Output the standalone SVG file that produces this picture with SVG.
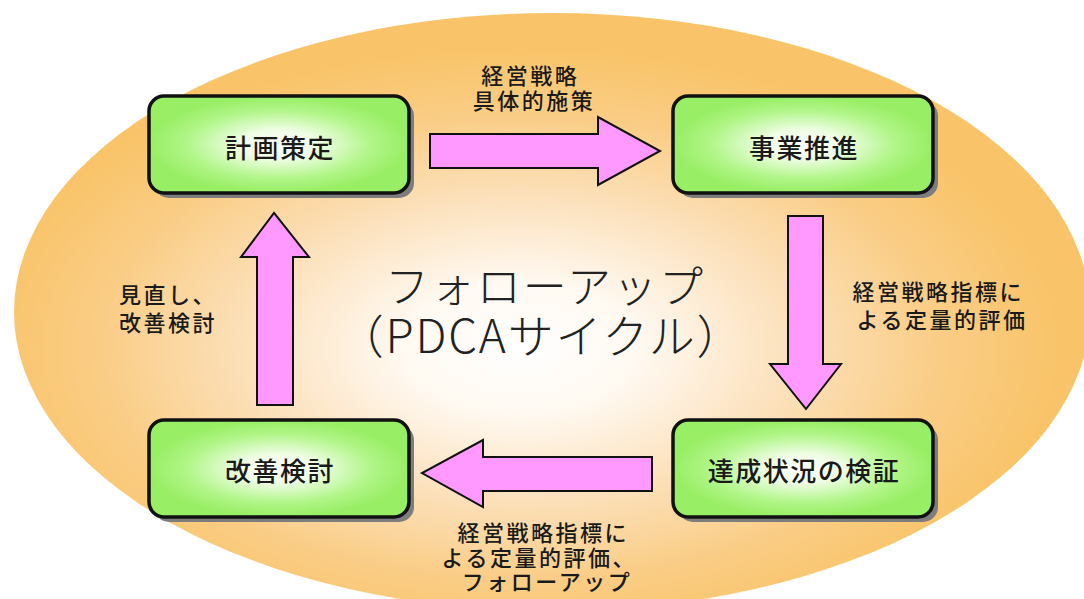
<svg xmlns="http://www.w3.org/2000/svg" width="1084" height="599" viewBox="0 0 1084 599">
  <defs>
    <radialGradient id="bg" cx="0.47" cy="0.56" r="0.5" fx="0.47" fy="0.56">
      <stop offset="0" stop-color="#FFFFFF"/>
      <stop offset="0.22" stop-color="#FFF9F1"/>
      <stop offset="0.5" stop-color="#FCE1BC"/>
      <stop offset="0.78" stop-color="#FACD86"/>
      <stop offset="1" stop-color="#F9C469"/>
    </radialGradient>
    <radialGradient id="boxfill" cx="0.5" cy="0.5" r="0.5">
      <stop offset="0" stop-color="#FFFFFF"/>
      <stop offset="0.3" stop-color="#EFFDE4"/>
      <stop offset="0.7" stop-color="#B2F68A"/>
      <stop offset="1" stop-color="#98EE64"/>
    </radialGradient>
    <style>
      .box { fill: url(#boxfill); stroke: #111; stroke-width: 3.5; }
      .shadow { fill: #7d7d7d; }
      .btxt { font-family: "Noto Sans CJK JP", "Noto Sans", sans-serif; font-size: 26px; font-weight: 500; fill: #1a1a1a; text-anchor: middle; dominant-baseline: central; letter-spacing: 1.5px; }
      .lbl { font-family: "Noto Sans CJK JP", "Noto Sans", sans-serif; font-size: 22px; font-weight: 500; fill: #1a1a1a; dominant-baseline: central; letter-spacing: 2.5px; }
      .mid { text-anchor: middle; }
      .big { font-family: "Noto Sans CJK JP", "Noto Sans", sans-serif; font-weight: 300; fill: #222; text-anchor: middle; dominant-baseline: central; }
      .arrow { fill: #FF99FF; stroke: #111; stroke-width: 2; stroke-linejoin: miter; }
    </style>
  </defs>

  <ellipse id="background" cx="552" cy="312" rx="538" ry="299" fill="url(#bg)"/>

  <g id="center-title">
    <text class="big" x="545" y="284" font-size="44" letter-spacing="2">フォローアップ</text>
    <text class="big" x="541" y="333" font-size="46" letter-spacing="1.8">（PDCAサイクル）</text>
  </g>

  <g id="connectors">
    <polygon class="arrow" points="430,134 598,134 598,117 660,151 598,185 598,168 430,168"/>
    <polygon class="arrow" points="788,216 823,216 823,364 841,364 806,409 770,364 788,364"/>
    <polygon class="arrow" points="652,457 652,491 483,491 483,507 422,473 483,440 483,457"/>
    <polygon class="arrow" points="257,405 257,257 241,257 274,213 309,257 293,257 293,405"/>
    <text id="label-top" class="lbl mid">
      <tspan x="534" y="74">経営戦略</tspan>
      <tspan x="534" y="99">具体的施策</tspan>
    </text>
    <text id="label-right" class="lbl mid">
      <tspan x="942" y="290">経営戦略指標に</tspan>
      <tspan x="942" y="318">よる定量的評価</tspan>
    </text>
    <text id="label-bottom" class="lbl mid">
      <tspan x="547" y="531">経営戦略指標に</tspan>
      <tspan x="543" y="556">よる定量的評価、</tspan>
      <tspan x="547" y="580">フォローアップ</tspan>
    </text>
    <text id="label-left" class="lbl">
      <tspan x="119" y="293">見直し、</tspan>
      <tspan x="119" y="321">改善検討</tspan>
    </text>
  </g>

  <g id="node-plan">
    <rect class="shadow" x="154" y="101" width="260" height="97" rx="15"/>
    <rect class="box" x="149" y="96" width="260" height="97" rx="15"/>
    <text class="btxt" x="280" y="146">計画策定</text>
  </g>
  <g id="node-do">
    <rect class="shadow" x="678" y="101" width="260" height="97" rx="15"/>
    <rect class="box" x="673" y="96" width="260" height="97" rx="15"/>
    <text class="btxt" x="804" y="146">事業推進</text>
  </g>
  <g id="node-check">
    <rect class="shadow" x="678" y="425" width="260" height="97" rx="15"/>
    <rect class="box" x="673" y="420" width="260" height="97" rx="15"/>
    <text class="btxt" x="804" y="469">達成状況の検証</text>
  </g>
  <g id="node-act">
    <rect class="shadow" x="154" y="425" width="260" height="97" rx="15"/>
    <rect class="box" x="149" y="420" width="260" height="97" rx="15"/>
    <text class="btxt" x="280" y="469">改善検討</text>
  </g>
</svg>
